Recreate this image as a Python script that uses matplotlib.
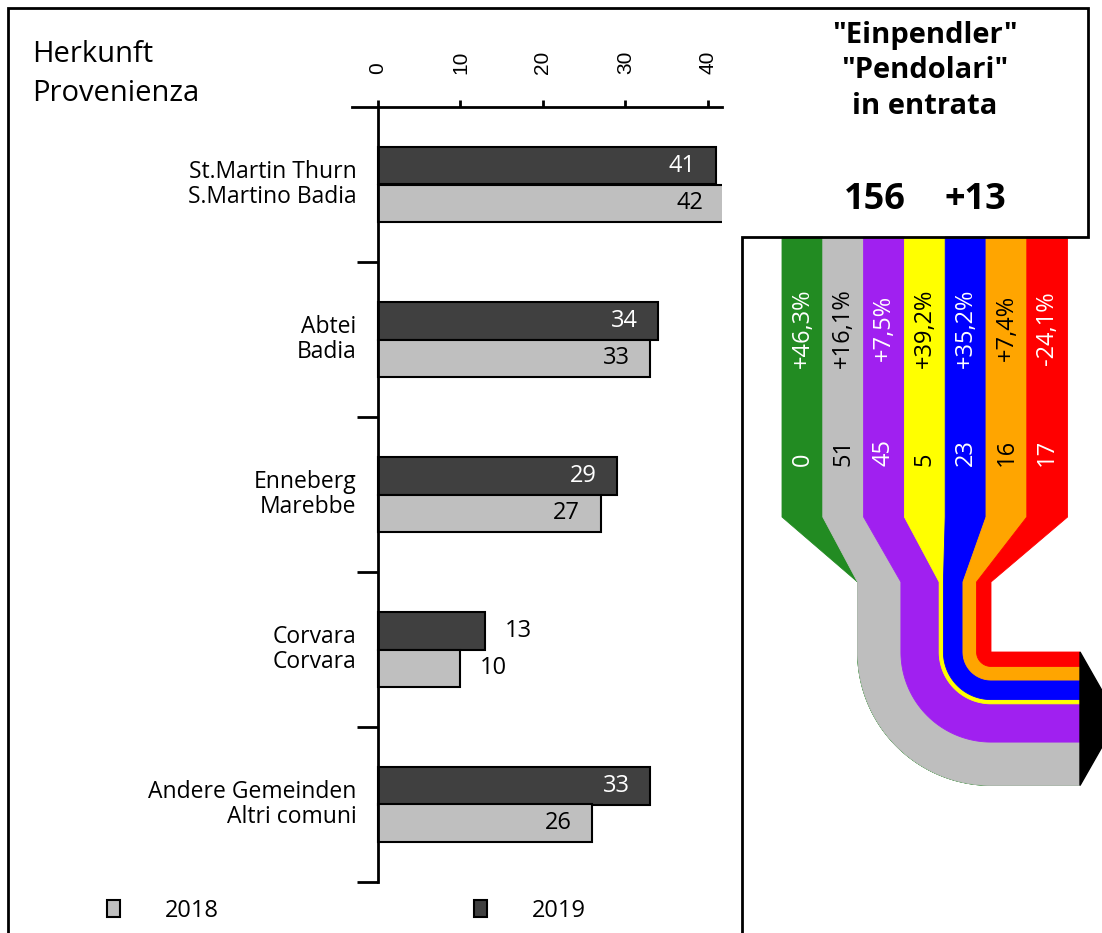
import numpy as np
import matplotlib
matplotlib.use("Agg")
import matplotlib.pyplot as plt
from matplotlib.patches import Polygon

plt.rcParams['font.family'] = ['Open Sans', 'DejaVu Sans']

# Herkunft der Einpendler (Balken)
orte_de = ["St.Martin Thurn", "Abtei", "Enneberg", "Corvara", "Andere Gemeinden"]
orte_it = ["S.Martino Badia", "Badia", "Marebbe", "Corvara", "Altri comuni"]
werte_2018 = [42, 33, 27, 10, 26]
werte_2019 = [41, 34, 29, 13, 33]
x_ticks = [0, 10, 20, 30, 40]

# Fluss rechts
fluss_werte = [0, 51, 45, 5, 23, 16, 17]
fluss_prozent = ["+46,3%", "+16,1%", "+7,5%", "+39,2%", "+35,2%", "+7,4%", "-24,1%"]
fluss_farben = ["#228B22", "#BEBEBE", "#A020F0", "#FFFF00", "#0000FF", "#FFA500", "#FF0000"]
fluss_schrift = ["white", "black", "white", "black", "white", "black", "white"]
summe = "156"
differenz = "+13"

W, H = 1102, 933
fig = plt.figure(figsize=(W / 100, H / 100), dpi=100)

# Hintergrund-Achse in Pixeln (Rahmen, Fluss, Texte)
bg = fig.add_axes([0, 0, 1, 1])
bg.set_xlim(0, W)
bg.set_ylim(H, 0)
bg.axis('off')

# Rahmen
bg.plot([8, 8, 1088, 1088, 742, 742], [H, 8, 8, 237, 237, H], color='black', lw=2,
        solid_joinstyle='miter')

bg.text(32, 62, "Herkunft", fontsize=21, va='baseline')
bg.text(32, 101, "Provenienza", fontsize=21, va='baseline')

# Titel rechts
bg.text(925, 35, '"Einpendler"', fontsize=21, fontweight='bold', ha='center', va='center')
bg.text(925, 71, '"Pendolari"', fontsize=21, fontweight='bold', ha='center', va='center')
bg.text(925, 107, 'in entrata', fontsize=21, fontweight='bold', ha='center', va='center')
bg.text(875, 200, summe, fontsize=26, fontweight='bold', ha='center', va='center')
bg.text(975, 200, differenz, fontsize=26, fontweight='bold', ha='center', va='center')

# Flussdiagramm
skala = 0.85
cx, cy = 991, 652
xa = 1080
sx0, sb = 782, 40.8
y_top, y_knick, y_zus = 237, 517, 582
breiten = np.array(fluss_werte) * skala
r_out = np.cumsum(breiten[::-1])[::-1]
r_in = r_out - breiten
theta = np.linspace(np.pi, np.pi / 2, 60)

for i in range(len(fluss_werte)):
    s0 = sx0 + i * sb
    s1 = s0 + sb
    ro, ri = r_out[i], r_in[i]
    pts = [(s0, y_top), (s0, y_knick), (cx - ro, y_zus), (cx - ro, cy)]
    pts += list(zip(cx + ro * np.cos(theta), cy + ro * np.sin(theta)))
    pts += [(xa, cy + ro), (xa, cy + ri)]
    pts += list(zip(cx + ri * np.cos(theta[::-1]), cy + ri * np.sin(theta[::-1])))
    pts += [(cx - ri, y_zus), (s1, y_knick), (s1, y_top)]
    bg.add_patch(Polygon(pts, closed=True, facecolor=fluss_farben[i],
                         edgecolor=fluss_farben[i], lw=0.6))
    xc = s0 + sb / 2
    bg.text(xc, 328, fluss_prozent[i], rotation=90, ha='center', va='center',
            color=fluss_schrift[i], fontsize=17)
    bg.text(xc, 466, str(fluss_werte[i]), rotation=90, ha='center', va='bottom',
            color=fluss_schrift[i], fontsize=17)

gesamt = r_out[0]
bg.add_patch(Polygon([(xa, cy), (1118, cy + gesamt / 2), (xa, cy + gesamt)],
                     closed=True, facecolor='black', edgecolor='black'))

# Balkendiagramm
ax = fig.add_axes([352 / W, (H - 882) / H, 370 / W, 775 / H])
ax.set_facecolor('none')
pos = np.arange(len(orte_de))
h = 0.245
b19 = ax.barh(pos - h / 2, werte_2019, height=h, color='#404040', edgecolor='black', lw=1.5)
b18 = ax.barh(pos + h / 2, werte_2018, height=h, color='#BFBFBF', edgecolor='black', lw=1.5)

ax.set_xlim(-3.15, 41.7)
ax.set_ylim(4.5, -0.5)

for yy, vals, col in [(pos - h / 2, werte_2019, 'white'), (pos + h / 2, werte_2018, 'black')]:
    for y, v in zip(yy, vals):
        if v >= 20:
            ax.text(v - 2.5, y, str(v), ha='right', va='center', color=col, fontsize=17)
        else:
            ax.text(v + 2.4, y, str(v), ha='left', va='center', color='black', fontsize=17)

for i in range(len(orte_de)):
    ax.text(-2.6, pos[i], orte_de[i] + "\n" + orte_it[i], ha='right', va='center',
            fontsize=16.5, linespacing=1.1)

for s in ['left', 'right', 'bottom']:
    ax.spines[s].set_visible(False)
ax.spines['top'].set_linewidth(2)
ax.plot([0, 0], [-0.5, 4.5], color='black', lw=2, clip_on=False)
ax.hlines(pos + 0.5, -2.55, 0, color='black', lw=2, clip_on=False)

ax.xaxis.set_ticks_position('top')
ax.set_xticks(x_ticks)
ax.set_xticklabels([str(t) for t in x_ticks], family='Liberation Sans')
ax.tick_params(axis='x', direction='out', length=5, width=2, pad=19, labelsize=15,
               labelrotation=90)
ax.set_yticks([])

fig.legend(handles=[b18, b19], labels=['2018', '2019'], loc='center left',
           bbox_to_anchor=(107 / W, (H - 911) / H), ncol=2, frameon=False, fontsize=17,
           handlelength=0.55, handleheight=0.75, handletextpad=1.9, columnspacing=10.8,
           borderpad=0, borderaxespad=0)

fig.savefig("out.png", dpi=100)
